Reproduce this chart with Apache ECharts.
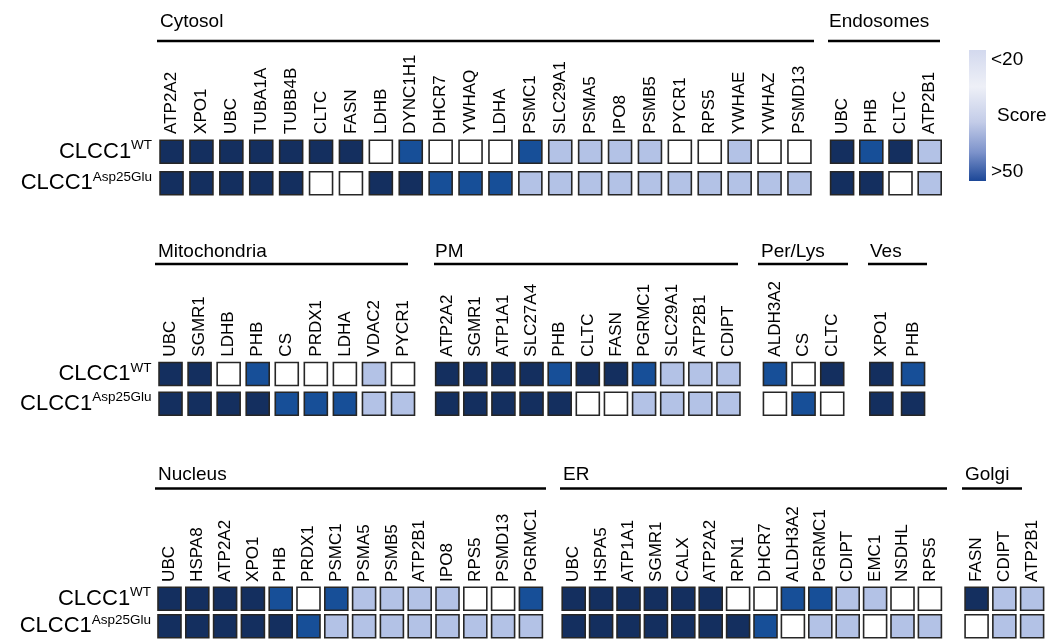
<!DOCTYPE html>
<html>
<head>
<meta charset="utf-8">
<script src="https://cdn.jsdelivr.net/npm/echarts@6/dist/echarts.min.js"></script>
<style>
  html, body { margin: 0; padding: 0; background: #fff; }
  #chart { width: 1046px; height: 640px; }
</style>
</head>
<body>
<div id="chart"></div>
<script>
// Score codes: 15 = "<20", 25 = no enrichment (white), 40 = mid, 60 = ">50"
const rowNames = ['WT', 'Asp25Glu'];

const cytosolGenes = ['ATP2A2','XPO1','UBC','TUBA1A','TUBB4B','CLTC','FASN','LDHB','DYNC1H1','DHCR7','YWHAQ','LDHA','PSMC1','SLC29A1','PSMA5','IPO8','PSMB5','PYCR1','RPS5','YWHAE','YWHAZ','PSMD13'];
const cytosolWT  = [60,60,60,60,60,60,60,25,40,25,25,25,40,15,15,15,15,25,25,15,25,25];
const cytosolAsp = [60,60,60,60,60,25,25,60,60,40,40,40,15,15,15,15,15,15,15,15,15,15];

const endosomeGenes = ['UBC','PHB','CLTC','ATP2B1'];
const endosomeWT  = [60,40,60,15];
const endosomeAsp = [60,60,25,15];

const mitoGenes = ['UBC','SGMR1','LDHB','PHB','CS','PRDX1','LDHA','VDAC2','PYCR1'];
const mitoWT  = [60,60,25,40,25,25,25,15,25];
const mitoAsp = [60,60,60,60,40,40,40,15,15];

const pmGenes = ['ATP2A2','SGMR1','ATP1A1','SLC27A4','PHB','CLTC','FASN','PGRMC1','SLC29A1','ATP2B1','CDIPT'];
const pmWT  = [60,60,60,60,40,60,60,40,15,15,15];
const pmAsp = [60,60,60,60,60,25,25,15,15,15,15];

const perLysGenes = ['ALDH3A2','CS','CLTC'];
const perLysWT  = [40,25,60];
const perLysAsp = [25,40,25];

const vesGenes = ['XPO1','PHB'];
const vesWT  = [60,40];
const vesAsp = [60,60];

const nucleusGenes = ['UBC','HSPA8','ATP2A2','XPO1','PHB','PRDX1','PSMC1','PSMA5','PSMB5','ATP2B1','IPO8','RPS5','PSMD13','PGRMC1'];
const nucleusWT  = [60,60,60,60,40,25,40,15,15,15,15,25,25,40];
const nucleusAsp = [60,60,60,60,60,40,15,15,15,15,15,15,15,15];

const erGenes = ['UBC','HSPA5','ATP1A1','SGMR1','CALX','ATP2A2','RPN1','DHCR7','ALDH3A2','PGRMC1','CDIPT','EMC1','NSDHL','RPS5'];
const erWT  = [60,60,60,60,60,60,25,25,40,40,15,15,25,25];
const erAsp = [60,60,60,60,60,60,60,40,25,15,15,25,15,15];

const golgiGenes = ['FASN','CDIPT','ATP2B1'];
const golgiWT  = [60,15,15];
const golgiAsp = [25,15,15];

const panels = [
  { title: 'Cytosol',      genes: cytosolGenes,  wt: cytosolWT,  mut: cytosolAsp },
  { title: 'Endosomes',    genes: endosomeGenes, wt: endosomeWT, mut: endosomeAsp },
  { title: 'Mitochondria', genes: mitoGenes,     wt: mitoWT,     mut: mitoAsp },
  { title: 'PM',           genes: pmGenes,       wt: pmWT,       mut: pmAsp },
  { title: 'Per/Lys',      genes: perLysGenes,   wt: perLysWT,   mut: perLysAsp },
  { title: 'Ves',          genes: vesGenes,      wt: vesWT,      mut: vesAsp },
  { title: 'Nucleus',      genes: nucleusGenes,  wt: nucleusWT,  mut: nucleusAsp },
  { title: 'ER',           genes: erGenes,       wt: erWT,       mut: erAsp },
  { title: 'Golgi',        genes: golgiGenes,    wt: golgiWT,    mut: golgiAsp }
];

// Page geometry: row centres (WT, mutant) per block row, and per-panel placement
const blockRows = [
  { yc: [151.7, 183.3], titleY: 22,    lineY: 41,    labelGap: 2 },
  { yc: [374.0, 403.7], titleY: 251.5, lineY: 264,   labelGap: 2.5 },
  { yc: [599.5, 628.7], titleY: 474.5, lineY: 488.5, labelGap: 3 }
];
const placement = [
  { row: 0, x0: 156.6, pitch: 29.9, titleX: 160, line: [157, 814] },
  { row: 0, x0: 827.5, pitch: 29.2, titleX: 829, line: [828, 940] },
  { row: 1, x0: 156.0, pitch: 29.06, titleX: 158, line: [155, 408] },
  { row: 1, x0: 433.1, pitch: 28.13, titleX: 435, line: [434, 738] },
  { row: 1, x0: 760.6, pitch: 28.65, titleX: 761, line: [758, 848] },
  { row: 1, x0: 865.5, pitch: 31.7, titleX: 870, line: [868, 927] },
  { row: 2, x0: 155.6, pitch: 27.8, titleX: 158, line: [155, 546] },
  { row: 2, x0: 560.0, pitch: 27.4, titleX: 563, line: [560, 947] },
  { row: 2, x0: 962.7, pitch: 28.5, titleX: 965, line: [962, 1022] }
];

const FONT = '"Liberation Sans", Arial, Helvetica, sans-serif';
const INK = '#000';

const grids = [], xAxes = [], yAxes = [], series = [], graphics = [];

panels.forEach((p, i) => {
  const pl = placement[i];
  const br = blockRows[pl.row];
  const rp = br.yc[1] - br.yc[0];
  const firstInRow = placement.findIndex(q => q.row === pl.row) === i;

  grids.push({
    left: pl.x0,
    top: br.yc[0] - rp / 2,
    width: p.genes.length * pl.pitch,
    height: 2 * rp
  });

  xAxes.push({
    gridIndex: i,
    type: 'category',
    position: 'top',
    data: p.genes,
    axisLine: { show: false },
    axisTick: { show: false },
    splitLine: { show: false },
    axisLabel: {
      rotate: -90,
      interval: 0,
      margin: br.labelGap,
      fontFamily: FONT,
      fontSize: 17,
      color: INK
    }
  });

  yAxes.push({
    gridIndex: i,
    type: 'category',
    inverse: true,
    data: rowNames,
    axisLine: { show: false },
    axisTick: { show: false },
    splitLine: { show: false },
    axisLabel: {
      show: firstInRow,
      margin: 4.5,
      formatter: v => '{m|CLCC1}{s|' + v + '}',
      rich: {
        m: { fontFamily: FONT, fontSize: 22, color: INK, lineHeight: 26 },
        s: { fontFamily: FONT, fontSize: 13.5, color: INK, lineHeight: 14, verticalAlign: 'top' }
      }
    }
  });

  const data = [];
  p.genes.forEach((g, k) => {
    data.push([k, 0, p.wt[k]]);
    data.push([k, 1, p.mut[k]]);
  });
  series.push({
    type: 'scatter',
    xAxisIndex: i,
    yAxisIndex: i,
    symbol: 'rect',
    symbolSize: 23,
    data: data,
    itemStyle: { borderColor: '#262626', borderWidth: 1.6, opacity: 1 },
    emphasis: { disabled: true },
    silent: true
  });

  graphics.push({
    type: 'text',
    x: pl.titleX,
    y: br.titleY,
    style: { text: p.title, font: '19px ' + FONT, fill: INK, verticalAlign: 'middle', align: 'left' }
  });
  graphics.push({
    type: 'line',
    shape: { x1: pl.line[0], y1: br.lineY, x2: pl.line[1], y2: br.lineY },
    style: { stroke: '#000', lineWidth: 2.6 }
  });
});

// Score colour key
graphics.push({
  type: 'rect',
  shape: { x: 969, y: 50, width: 17, height: 131 },
  style: {
    fill: new echarts.graphic.LinearGradient(0, 0, 0, 1, [
      { offset: 0.0, color: '#d3d9ee' },
      { offset: 0.28, color: '#eef0f7' },
      { offset: 0.55, color: '#c3cce8' },
      { offset: 0.78, color: '#7d93cb' },
      { offset: 1.0, color: '#1c4797' }
    ])
  }
});
graphics.push({ type: 'text', x: 991, y: 60, style: { text: '<20', font: '19px ' + FONT, fill: INK, verticalAlign: 'middle' } });
graphics.push({ type: 'text', x: 997, y: 116, style: { text: 'Score', font: '19px ' + FONT, fill: INK, verticalAlign: 'middle' } });
graphics.push({ type: 'text', x: 991, y: 172, style: { text: '>50', font: '19px ' + FONT, fill: INK, verticalAlign: 'middle' } });

const chart = echarts.init(document.getElementById('chart'), null, { renderer: 'canvas' });
chart.setOption({
  animation: false,
  backgroundColor: '#fff',
  grid: grids,
  xAxis: xAxes,
  yAxis: yAxes,
  visualMap: {
    type: 'piecewise',
    show: false,
    dimension: 2,
    seriesIndex: series.map((s, i) => i),
    pieces: [
      { lt: 20, color: '#b3c2e6' },
      { gte: 20, lt: 30, color: '#ffffff' },
      { gte: 30, lte: 50, color: '#174f98' },
      { gt: 50, color: '#142f5f' }
    ]
  },
  series: series,
  graphic: graphics
});
</script>
</body>
</html>
